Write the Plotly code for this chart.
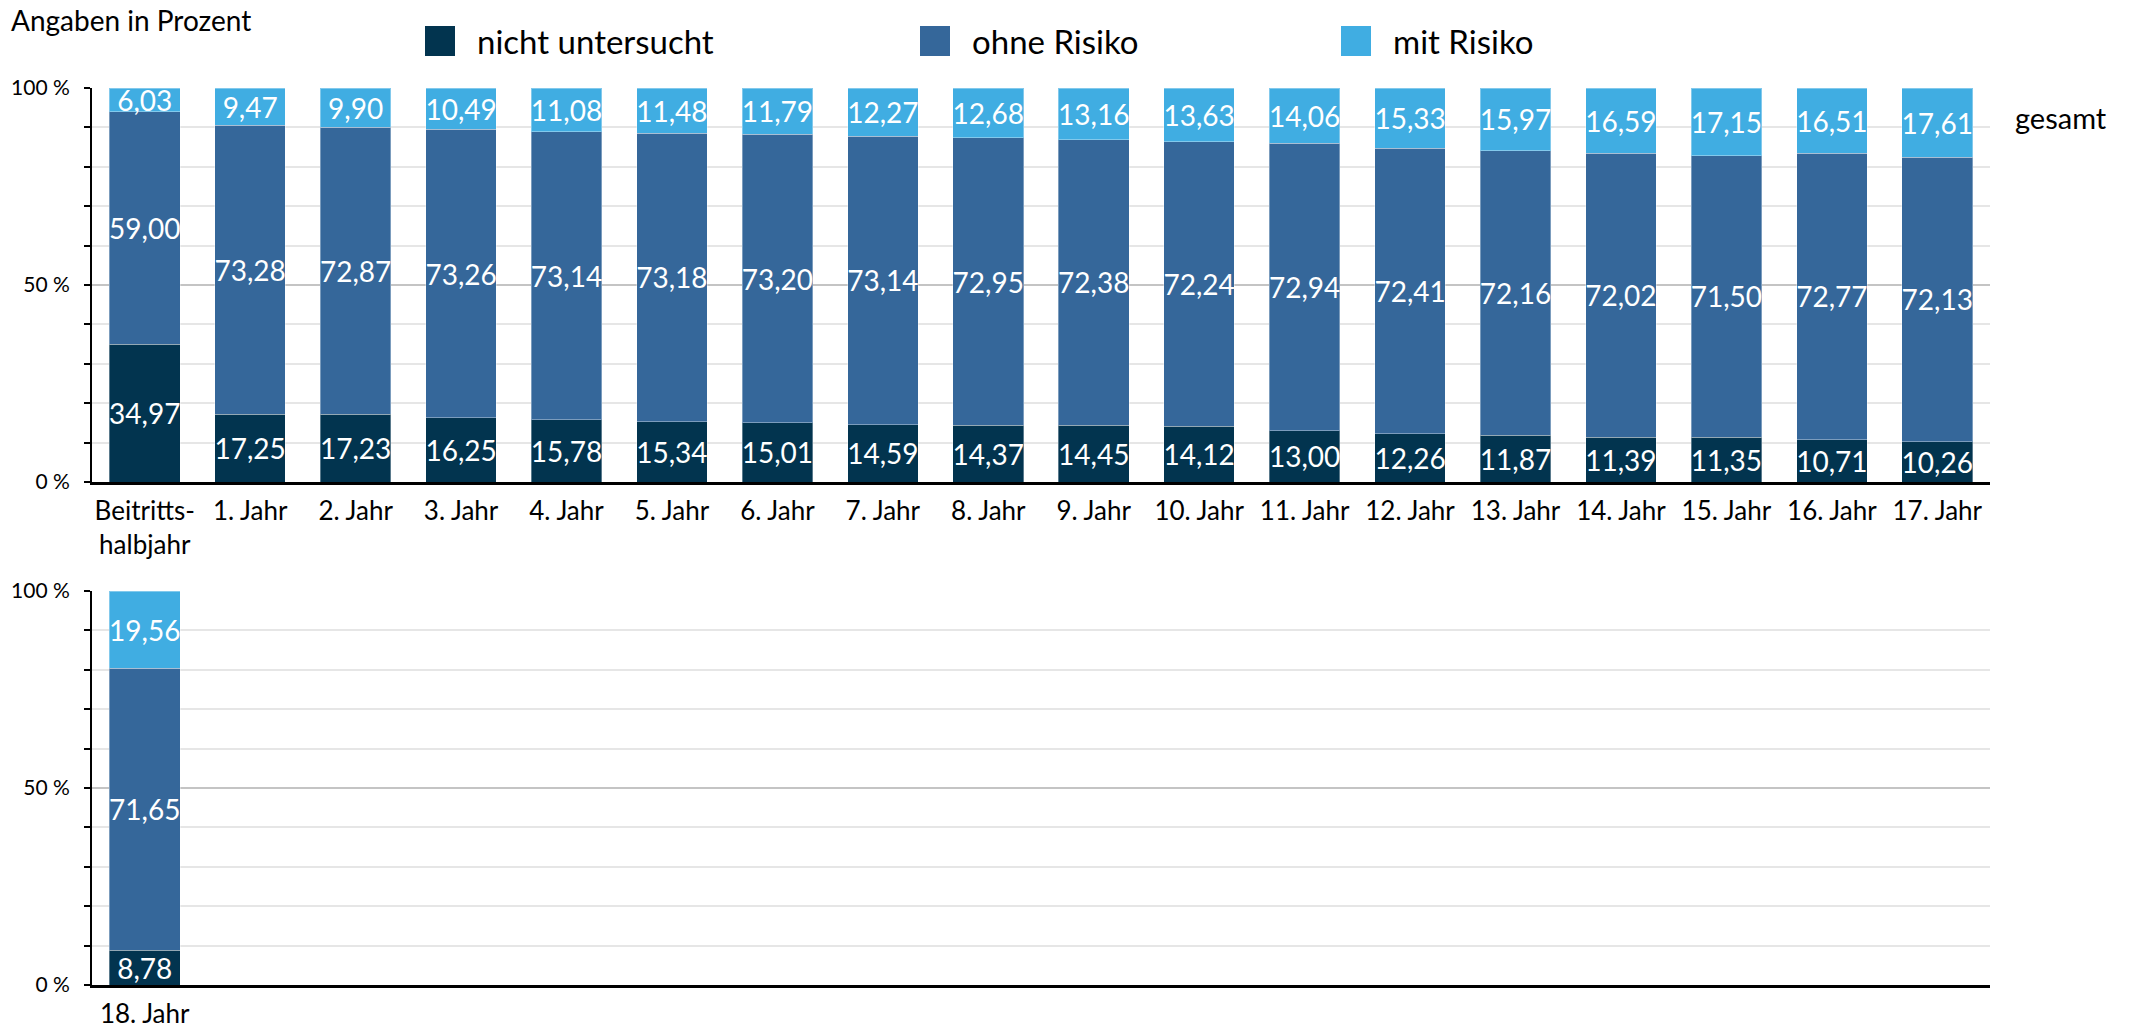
import plotly.graph_objects as go

# ---------------- data ----------------
categories_top = ["Beitritts-<br>halbjahr"] + [f"{i}. Jahr" for i in range(1, 18)]
categories_bottom = ["18. Jahr"]

series_names = ["nicht untersucht", "ohne Risiko", "mit Risiko"]

nicht_untersucht = [34.97, 17.25, 17.23, 16.25, 15.78, 15.34, 15.01, 14.59, 14.37,
                    14.45, 14.12, 13.00, 12.26, 11.87, 11.39, 11.35, 10.71, 10.26, 8.78]
ohne_risiko = [59.00, 73.28, 72.87, 73.26, 73.14, 73.18, 73.20, 73.14, 72.95,
               72.38, 72.24, 72.94, 72.41, 72.16, 72.02, 71.50, 72.77, 72.13, 71.65]
mit_risiko = [6.03, 9.47, 9.90, 10.49, 11.08, 11.48, 11.79, 12.27, 12.68,
              13.16, 13.63, 14.06, 15.33, 15.97, 16.59, 17.15, 16.51, 17.61, 19.56]

y_tickvals = [0, 50, 100]
y_ticktext = ["0 %", "50 %", "100 %"]

# ---------------- style ----------------
W, H = 2130, 1033
FONT = "Lato, 'Noto Sans', sans-serif"
colors = ["#02344f", "#35679a", "#40ade2"]
values = [nicht_untersucht, ohne_risiko, mit_risiko]


def px_x(p):
    return p / W


def px_y(p):
    return 1 - p / H


fig = go.Figure()

n_top = len(categories_top)
for name, vals, col in zip(series_names, values, colors):
    common = dict(
        name=name, marker_color=col,
        marker_line=dict(width=1, color="rgba(255,255,255,0.35)"),
        texttemplate="%{y:.2f}", textposition="inside", insidetextanchor="middle",
        textangle=0, constraintext="none",
        textfont=dict(color="white", size=28, family=FONT),
        showlegend=False, hoverinfo="skip", cliponaxis=False)
    fig.add_trace(go.Bar(x=categories_top, y=vals[:n_top], xaxis="x", yaxis="y", **common))
    fig.add_trace(go.Bar(x=categories_bottom, y=vals[n_top:], xaxis="x2", yaxis="y2", **common))

yaxis_common = dict(
    range=[0, 100.002], tickvals=y_tickvals, ticktext=y_ticktext,
    showgrid=True, gridcolor="#c4c4c4", gridwidth=2,
    ticks="outside", ticklen=6, tickcolor="black", tickwidth=2,
    showline=True, linecolor="black", linewidth=2, zeroline=False,
    tickfont=dict(size=21, family=FONT, color="black"),
    ticklabelstandoff=10, automargin=False,
    minor=dict(dtick=10, showgrid=True, gridcolor="#e6e6e6", gridwidth=2,
               ticks="outside", ticklen=6, tickcolor="black", tickwidth=2),
    fixedrange=True,
)
xaxis_common = dict(
    showline=True, linecolor="black", linewidth=3, ticks="",
    tickfont=dict(size=26, family=FONT, color="black"),
    ticklabelstandoff=4, automargin=False,
    range=[-0.5, n_top - 0.5], fixedrange=True,
)

fig.update_layout(
    width=W, height=H,
    margin=dict(l=0, r=0, t=0, b=0, autoexpand=False),
    paper_bgcolor="white", plot_bgcolor="white",
    barmode="stack", bargap=0.33,
    separators=",.",
    font=dict(family=FONT, color="black"),
    xaxis=dict(domain=[px_x(92), px_x(1990)], anchor="y", type="category", **xaxis_common),
    yaxis=dict(domain=[px_y(482), px_y(88)], anchor="x", **yaxis_common),
    xaxis2=dict(domain=[px_x(92), px_x(1990)], anchor="y2", type="category", **xaxis_common),
    yaxis2=dict(domain=[px_y(985), px_y(591)], anchor="x2", **yaxis_common),
    showlegend=False,
)

# title and side label
fig.add_annotation(text="Angaben in Prozent", xref="paper", yref="paper",
                   x=px_x(9), y=px_y(20), xanchor="left", yanchor="middle",
                   showarrow=False, font=dict(size=28, family=FONT, color="black"))
fig.add_annotation(text="gesamt", xref="paper", yref="paper",
                   x=px_x(2013), y=px_y(118), xanchor="left", yanchor="middle",
                   showarrow=False, font=dict(size=29, family=FONT, color="black"))

# manual legend (large swatches)
legend_swatch_x = [425, 920, 1341]
for lx, name, col in zip(legend_swatch_x, series_names, colors):
    fig.add_shape(type="rect", xref="paper", yref="paper",
                  x0=px_x(lx), x1=px_x(lx + 30), y0=px_y(56), y1=px_y(26),
                  fillcolor=col, line=dict(width=0))
    fig.add_annotation(text=name, xref="paper", yref="paper",
                       x=px_x(lx + 50), y=px_y(41), xanchor="left", yanchor="middle",
                       showarrow=False, font=dict(size=33, family=FONT, color="black"))

fig.write_html("out.html",
               config={"displayModeBar": False, "staticPlot": True},
               post_script="document.body.style.margin='0px';document.body.style.overflow='hidden';")
